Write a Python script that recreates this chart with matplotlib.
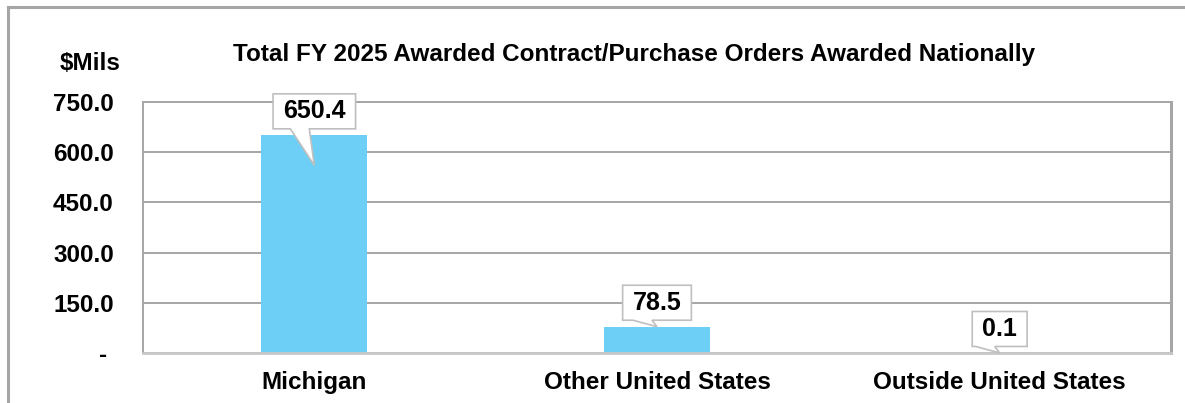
import matplotlib
matplotlib.use("Agg")
from matplotlib import pyplot as plt
from matplotlib.patches import Polygon
from matplotlib.lines import Line2D
from matplotlib.transforms import Affine2D

plt.rcParams['font.family'] = ['Liberation Sans', 'DejaVu Sans']
plt.rcParams['font.weight'] = 'bold'

# awarded contract / purchase orders, $ millions
categories = ['Michigan', 'Other United States', 'Outside United States']
amounts = [650.4, 78.5, 0.1]
yticks = [0, 150, 300, 450, 600, 750]
ytick_labels = ['- ', '150.0', '300.0', '450.0', '600.0', '750.0']

bar_color = '#6ecff6'
grid_color = '#a6a6a6'

fig = plt.figure(figsize=(11.85, 4.03), dpi=100)
ax = fig.add_axes([143 / 1185, 1 - 353 / 403, 1028 / 1185, 251 / 403])

x = range(len(categories))
ax.bar(x, amounts, width=0.31, color=bar_color, zorder=2)

ax.set_xlim(-0.5, len(categories) - 0.5)
ax.set_ylim(0, 750)
ax.set_yticks(yticks)
ax.set_yticklabels(ytick_labels, fontsize=17.5, fontweight='bold')
ax.set_xticks(list(x))
ax.set_xticklabels(categories, fontsize=17.5, fontweight='bold')
ax.tick_params(axis='y', length=0, pad=21)
ax.tick_params(axis='x', length=0, pad=13)
ax.yaxis.grid(True, color=grid_color, lw=1.4, zorder=0)
ax.set_axisbelow(True)
for side in ['left', 'top', 'right']:
    ax.spines[side].set_color(grid_color)
    ax.spines[side].set_linewidth(1.4)
ax.spines['right'].set_linewidth(2.2)
ax.spines['bottom'].set_color('#c8c8c8')
ax.spines['bottom'].set_linewidth(2)

fig.text(634 / 1185, 1 - 55 / 403,
         'Total FY 2025 Awarded Contract/Purchase Orders Awarded Nationally',
         ha='center', va='center', fontsize=17.5, fontweight='bold')
fig.text(90 / 1185, 1 - 63 / 403, '$Mils', ha='center', va='center',
         fontsize=17.5, fontweight='bold')

# outer chart border (partly cropped)
fig.add_artist(Line2D([8 / 1185, 1], [1 - 7 / 403, 1 - 7 / 403],
                      transform=fig.transFigure, color=grid_color, lw=2.2))
fig.add_artist(Line2D([8 / 1185, 8 / 1185], [0, 1 - 7 / 403],
                      transform=fig.transFigure, color=grid_color, lw=2.2))

# callout data labels
renderer = fig.canvas.get_renderer()
drops = [30, 0, 0]
gap = 6.5
box_h = 35
for i, v in enumerate(amounts):
    px, py = ax.transData.transform((i, v))
    tip = -drops[i]
    t = ax.annotate(f'{v:.1f}', xy=(i, v), xytext=(0, gap + box_h / 2),
                    textcoords='offset pixels', ha='center', va='center',
                    fontsize=18, fontweight='bold', zorder=5)
    w = t.get_window_extent(renderer).width + 20
    verts = [(-w / 2, gap), (-24, gap), (0, tip), (-5, gap), (w / 2, gap),
             (w / 2, gap + box_h), (-w / 2, gap + box_h)]
    poly = Polygon(verts, closed=True, facecolor='white', edgecolor='#bfbfbf',
                   lw=1.2, zorder=4, transform=Affine2D().translate(px, py),
                   clip_on=False)
    ax.add_artist(poly)

fig.savefig('out.png', dpi=100)
